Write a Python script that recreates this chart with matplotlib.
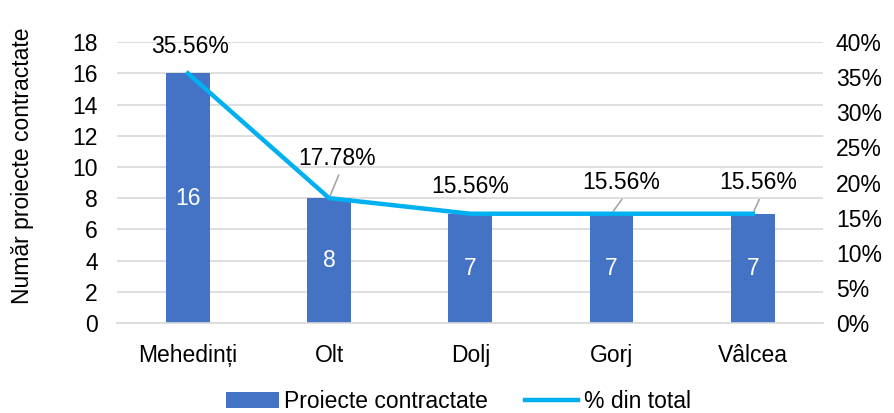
import matplotlib.pyplot as plt
import numpy as np

judete   = ['Mehedinți', 'Olt', 'Dolj', 'Gorj', 'Vâlcea']
proiecte = [16, 8, 7, 7, 7]
procente = [35.56, 17.78, 15.56, 15.56, 15.56]

# label offsets (pixels) for the % labels, and whether a leader line is drawn
offsets = [(2, 27), (8, 40), (0, 27), (10, 31), (5, 31)]
leaders = [False, True, False, True, True]

bar_col  = '#4472C4'
line_col = '#00B0F0'
grid_col = '#D9D9D9'
fs = 16.5

plt.rcParams['font.family'] = ['Liberation Sans', 'DejaVu Sans']

fig = plt.figure(figsize=(8.95, 4.13), dpi=100)
ax = fig.add_axes([0.131, 0.218, 0.789, 0.680])
x = np.arange(len(judete))

bars = ax.bar(x, proiecte, width=0.31, color=bar_col, label='Proiecte contractate', zorder=2)
ax.bar_label(bars, label_type='center', color='white', fontsize=fs)
ax.set_ylim(0, 18)
ax.set_yticks(np.arange(0, 19, 2))
ax.set_xlim(-0.5, len(judete) - 0.5)
ax.set_xticks(x)
ax.set_xticklabels(judete)
ax.grid(axis='y', color=grid_col, linewidth=1.2, zorder=0)
ax.set_axisbelow(True)
for s in ['top', 'left', 'right']:
    ax.spines[s].set_visible(False)
ax.spines['bottom'].set_color(grid_col)
ax.spines['bottom'].set_linewidth(1.2)
ax.tick_params(axis='y', length=0, labelsize=fs, pad=14)
ax.tick_params(axis='x', length=0, labelsize=fs, pad=15)
ax.set_ylabel('Număr proiecte contractate', fontsize=fs)
ax.yaxis.set_label_coords(-0.118, 0.56)

ax2 = ax.twinx()
pct = np.array(procente) / 100
ln, = ax2.plot(x, pct, color=line_col, linewidth=3.2, label='% din total', zorder=3)
ax2.set_ylim(0, 0.4)
ax2.set_yticks(np.arange(0, 0.41, 0.05))
ax2.set_yticklabels([f'{int(round(v*100))}%' for v in np.arange(0, 0.41, 0.05)])
ax2.tick_params(axis='y', length=0, labelsize=fs, pad=9)
for s in ax2.spines.values():
    s.set_visible(False)

for xi, p, off, lead in zip(x, procente, offsets, leaders):
    kw = {}
    if lead:
        kw['arrowprops'] = dict(arrowstyle='-', color='#A6A6A6', lw=1.2,
                                shrinkA=2, shrinkB=2, relpos=(0.55, 0.0))
    ax2.annotate(f'{p:.2f}%', xy=(xi, p / 100), xytext=off,
                 textcoords='offset pixels', ha='center', va='center',
                 fontsize=fs, **kw)

fig.legend(handles=[bars, ln], loc='center', bbox_to_anchor=(0.512, 0.027),
           ncol=2, frameon=False, fontsize=fs, handlelength=2.3,
           columnspacing=1.6, handletextpad=0.26)

fig.savefig('out.png', dpi=100)
